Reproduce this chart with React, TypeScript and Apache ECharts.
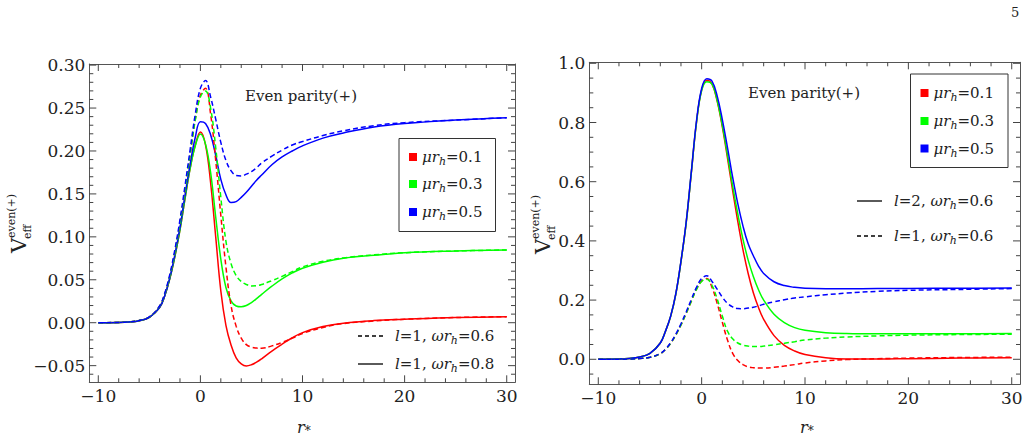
import { useEffect, useRef } from 'react';
import * as echarts from 'echarts';

const SERIF = "'DejaVu Serif', serif";
const FRAME = '#555555';
const TICK = '#444444';
const INK = '#222222';

// tortoise coordinate r_*
const rStar = [-10, -8, -7, -6, -5, -4, -3.5, -3, -2.5, -2, -1.5, -1, -0.5, 0, 0.5, 1, 1.5, 2, 2.5, 3, 3.5, 4, 4.5, 5, 5.5, 6, 7, 8, 9, 10, 12, 14, 17, 20, 25, 30];

// l=1, ωr_h=0.6
const l1w06Mu01 = [0, 0.0003, 0.0009, 0.0025, 0.0066, 0.019, 0.033, 0.054, 0.082, 0.116, 0.155, 0.196, 0.237, 0.265, 0.273, 0.243, 0.189, 0.125, 0.065, 0.020, -0.004, -0.018, -0.0255, -0.0285, -0.0295, -0.0298, -0.027, -0.023, -0.018, -0.0125, -0.0055, -0.001, 0.002, 0.004, 0.006, 0.007];
const l1w06Mu03 = [0, 0.0003, 0.0009, 0.0025, 0.0066, 0.019, 0.033, 0.054, 0.082, 0.116, 0.155, 0.196, 0.236, 0.263, 0.270, 0.250, 0.204, 0.146, 0.095, 0.069, 0.055, 0.048, 0.0445, 0.0428, 0.043, 0.0445, 0.049, 0.054, 0.0595, 0.065, 0.0715, 0.0755, 0.079, 0.0815, 0.0835, 0.0847];
const l1w06Mu05 = [0, 0.0003, 0.0009, 0.0025, 0.0067, 0.0195, 0.034, 0.056, 0.085, 0.120, 0.160, 0.202, 0.243, 0.273, 0.282, 0.263, 0.237, 0.210, 0.189, 0.177, 0.1715, 0.171, 0.173, 0.176, 0.1805, 0.186, 0.194, 0.201, 0.207, 0.211, 0.218, 0.2235, 0.2295, 0.233, 0.236, 0.2388];

// l=1, ωr_h=0.8
const l1w08Mu01 = [0, 0.0003, 0.0009, 0.0024, 0.0062, 0.0175, 0.031, 0.051, 0.077, 0.108, 0.145, 0.180, 0.207, 0.222, 0.207, 0.163, 0.100, 0.037, -0.003, -0.026, -0.041, -0.048, -0.0504, -0.049, -0.046, -0.042, -0.033, -0.025, -0.0175, -0.0115, -0.0045, -0.0005, 0.0025, 0.004, 0.006, 0.007];
const l1w08Mu03 = [0, 0.0003, 0.0009, 0.0024, 0.0062, 0.0175, 0.031, 0.051, 0.077, 0.108, 0.145, 0.180, 0.206, 0.2198, 0.208, 0.175, 0.123, 0.074, 0.041, 0.0255, 0.0195, 0.0186, 0.020, 0.0235, 0.028, 0.033, 0.0425, 0.051, 0.058, 0.0635, 0.0705, 0.075, 0.0785, 0.0815, 0.0835, 0.0847];
const l1w08Mu05 = [0, 0.0003, 0.0009, 0.0024, 0.0062, 0.0175, 0.031, 0.052, 0.079, 0.111, 0.149, 0.185, 0.216, 0.234, 0.232, 0.219, 0.195, 0.167, 0.149, 0.140, 0.141, 0.146, 0.152, 0.159, 0.166, 0.172, 0.184, 0.193, 0.200, 0.206, 0.215, 0.221, 0.228, 0.232, 0.236, 0.2388];

// l=2, ωr_h=0.6
const l2w06Mu01 = [0, 0.001, 0.003, 0.008, 0.020, 0.055, 0.095, 0.145, 0.22, 0.33, 0.46, 0.63, 0.80, 0.91, 0.943, 0.93, 0.872, 0.785, 0.68, 0.57, 0.465, 0.37, 0.29, 0.225, 0.175, 0.135, 0.08, 0.047, 0.028, 0.016, 0.005, 0.001, 0.001, 0.002, 0.004, 0.005];
const l2w06Mu03 = [0, 0.001, 0.003, 0.008, 0.020, 0.055, 0.095, 0.145, 0.22, 0.33, 0.46, 0.63, 0.80, 0.908, 0.938, 0.93, 0.875, 0.79, 0.69, 0.585, 0.49, 0.405, 0.335, 0.28, 0.235, 0.20, 0.152, 0.124, 0.107, 0.098, 0.090, 0.087, 0.086, 0.086, 0.0865, 0.087];
const l2w06Mu05 = [0, 0.001, 0.003, 0.008, 0.020, 0.055, 0.095, 0.146, 0.222, 0.332, 0.463, 0.633, 0.805, 0.915, 0.948, 0.94, 0.89, 0.81, 0.715, 0.615, 0.525, 0.45, 0.39, 0.35, 0.315, 0.29, 0.262, 0.249, 0.243, 0.240, 0.2385, 0.2385, 0.239, 0.2395, 0.240, 0.241];

const muLabels = ['0.1', '0.3', '0.5'];
const muColors = ['#ff0000', '#00ff00', '#0000ff'];

// tick positions
const xMajor = [-10, 0, 10, 20, 30];
const xMinor = [-8, -6, -4, -2, 2, 4, 6, 8, 12, 14, 16, 18, 22, 24, 26, 28];
const yMajorLeft = [-0.05, 0, 0.05, 0.1, 0.15, 0.2, 0.25, 0.3];
const yMinorLeft = [-0.06, -0.04, -0.03, -0.02, -0.01, 0.01, 0.02, 0.03, 0.04, 0.06, 0.07, 0.08, 0.09, 0.11, 0.12, 0.13, 0.14, 0.16, 0.17, 0.18, 0.19, 0.21, 0.22, 0.23, 0.24, 0.26, 0.27, 0.28, 0.29];
const yMajorRight = [0, 0.2, 0.4, 0.6, 0.8, 1.0];
const yMinorRight = [-0.05, 0.05, 0.1, 0.15, 0.25, 0.3, 0.35, 0.45, 0.5, 0.55, 0.65, 0.7, 0.75, 0.85, 0.9, 0.95];

// plot ranges of the two frames
const xRangeLeft = [-10.88, 30.81];
const yRangeLeft = [-0.0694, 0.3013];
const xRangeRight = [-10.87, 30.8];
const yRangeRight = [-0.0845, 1.0034];

const MAJOR_LEN = 7;
const MINOR_LEN = 4;

const minus = (s: string) => s.replace('-', '\u2212');

function axisFor(kind: 'x' | 'y', gridIndex: number, range: number[], major: number[], fmt: (v: number) => string) {
  const line = { show: true, onZero: false, lineStyle: { color: FRAME, width: 1 } };
  const base = { type: 'value', gridIndex, min: range[0], max: range[1], splitLine: { show: false }, silent: true, axisTick: { show: false } };
  return [
    {
      ...base, position: kind === 'x' ? 'bottom' : 'left', axisLine: line,
      axisLabel: { show: true, customValues: major, formatter: fmt, margin: kind === 'x' ? 5 : 4, fontFamily: SERIF, fontSize: 17, color: INK },
    },
    { ...base, position: kind === 'x' ? 'top' : 'right', axisLine: line, axisLabel: { show: false } },
  ];
}

// frame ticks on all four sides, placed through the cartesian's own coordinate conversion
function frameTicks(chart: echarts.ECharts, panel: number, xr: number[], yr: number[], xMaj: number[], xMin: number[], yMaj: number[], yMin: number[]) {
  const px = (x: number, y: number) => chart.convertToPixel({ xAxisIndex: panel * 2, yAxisIndex: panel * 2 } as any, [x, y]) as number[];
  const st = { stroke: TICK, lineWidth: 1 };
  const out: any[] = [];
  const addX = (v: number, len: number) => {
    const b = px(v, yr[0]);
    const t = px(v, yr[1]);
    out.push({ type: 'line', silent: true, z: 100, shape: { x1: b[0], y1: b[1], x2: b[0], y2: b[1] - len }, style: st });
    out.push({ type: 'line', silent: true, z: 100, shape: { x1: t[0], y1: t[1], x2: t[0], y2: t[1] + len }, style: st });
  };
  const addY = (v: number, len: number) => {
    const l = px(xr[0], v);
    const r = px(xr[1], v);
    out.push({ type: 'line', silent: true, z: 100, shape: { x1: l[0], y1: l[1], x2: l[0] + len, y2: l[1] }, style: st });
    out.push({ type: 'line', silent: true, z: 100, shape: { x1: r[0], y1: r[1], x2: r[0] - len, y2: r[1] }, style: st });
  };
  xMaj.forEach((v) => addX(v, MAJOR_LEN));
  xMin.forEach((v) => addX(v, MINOR_LEN));
  yMaj.forEach((v) => addY(v, MAJOR_LEN));
  yMin.forEach((v) => addY(v, MINOR_LEN));
  return out;
}

const rich = (size: number) => ({
  n: { fontFamily: SERIF, fontSize: size, fill: INK, lineHeight: 20 },
  i: { fontFamily: SERIF, fontStyle: 'italic', fontSize: size, fill: INK, lineHeight: 20 },
  s: { fontFamily: SERIF, fontStyle: 'italic', fontSize: Math.round(size * 0.72), fill: INK, lineHeight: 7, verticalAlign: 'bottom' },
});

function richText(x: number, y: number, text: string, size = 15) {
  return { type: 'text', x, y, silent: true, style: { text, rich: rich(size), verticalAlign: 'middle', align: 'left' } };
}

function colourLegend(boxX: number, boxY: number, w: number, h: number, rows: number[]) {
  const children: any[] = [
    { type: 'rect', shape: { x: boxX, y: boxY, width: w, height: h }, style: { fill: '#fff', stroke: '#333', lineWidth: 1 }, silent: true },
  ];
  muLabels.forEach((mu, k) => {
    children.push({ type: 'rect', shape: { x: boxX + 10, y: rows[k] - 4, width: 8, height: 8 }, style: { fill: muColors[k] }, silent: true });
    children.push(richText(boxX + 23, rows[k], `{i|μr}{s|h}{n|=${mu}}`));
  });
  return children;
}

function lineLegend(x: number, y: number, dashed: boolean, text: string) {
  return [
    { type: 'line', shape: { x1: x, y1: y, x2: x + 25, y2: y }, style: { stroke: '#000', lineWidth: 1.3, lineDash: dashed ? [4, 3] : null }, silent: true },
    richText(x + 37, y, text),
  ];
}

function yTitle(gx: number, gy: number) {
  return {
    type: 'group', x: gx, y: gy, rotation: Math.PI / 2, silent: true,
    children: [
      { type: 'text', x: 0, y: 0, style: { text: 'V', fontFamily: SERIF, fontSize: 21, fill: INK, verticalAlign: 'middle', align: 'left' } },
      { type: 'text', x: 15, y: -8, style: { text: 'even(+)', fontFamily: SERIF, fontSize: 11, fill: INK, verticalAlign: 'middle', align: 'left' } },
      { type: 'text', x: 14, y: 8, style: { text: 'eff', fontFamily: SERIF, fontSize: 11, fill: INK, verticalAlign: 'middle', align: 'left' } },
    ],
  };
}

export default function App() {
  const ref = useRef<HTMLDivElement>(null);

  useEffect(() => {
    if (!ref.current) return;
    const chart = echarts.init(ref.current, undefined, { renderer: 'svg' });

    const fmt2 = (v: number) => minus(v.toFixed(2));
    const fmt1 = (v: number) => minus(v.toFixed(1));
    const fmtX = (v: number) => minus(String(v));

    const xAxis = [
      ...axisFor('x', 0, xRangeLeft, xMajor, fmtX),
      ...axisFor('x', 1, xRangeRight, xMajor, fmtX),
    ];
    const yAxis = [
      ...axisFor('y', 0, yRangeLeft, yMajorLeft, fmt2),
      ...axisFor('y', 1, yRangeRight, yMajorRight, fmt1),
    ];

    const curve = (panel: number, values: number[], colour: number, dashed: boolean) => ({
      type: 'line',
      xAxisIndex: panel * 2,
      yAxisIndex: panel * 2,
      data: rStar.map((r, k) => [r, values[k]]),
      showSymbol: false,
      smooth: 0.4,
      silent: true,
      lineStyle: { color: muColors[colour], width: 1.5, type: dashed ? [5, 3] : 'solid' },
    });

    const series = [
      curve(0, l1w08Mu01, 0, false),
      curve(0, l1w08Mu03, 1, false),
      curve(0, l1w08Mu05, 2, false),
      curve(0, l1w06Mu01, 0, true),
      curve(0, l1w06Mu03, 1, true),
      curve(0, l1w06Mu05, 2, true),
      curve(1, l2w06Mu01, 0, false),
      curve(1, l2w06Mu03, 1, false),
      curve(1, l2w06Mu05, 2, false),
      curve(1, l1w06Mu01, 0, true),
      curve(1, l1w06Mu03, 1, true),
      curve(1, l1w06Mu05, 2, true),
    ];

    const graphic: any[] = [
      { type: 'text', x: 1011, y: 6, silent: true, style: { text: '5', fontFamily: SERIF, fontSize: 13, fill: INK } },
      { type: 'text', x: 245, y: 96, silent: true, style: { text: 'Even parity(+)', fontFamily: SERIF, fontSize: 15, fill: INK, verticalAlign: 'middle' } },
      { type: 'text', x: 748, y: 93, silent: true, style: { text: 'Even parity(+)', fontFamily: SERIF, fontSize: 15, fill: INK, verticalAlign: 'middle' } },
      ...colourLegend(399, 138.5, 96.5, 93, [157, 184, 212]),
      ...colourLegend(910.5, 74, 97.5, 93.5, [93, 121, 148.5]),
      ...lineLegend(358, 336, true, '{i|l}{n|=1, }{i|ωr}{s|h}{n|=0.6}'),
      ...lineLegend(358, 364, false, '{i|l}{n|=1, }{i|ωr}{s|h}{n|=0.8}'),
      ...lineLegend(857, 201, false, '{i|l}{n|=2, }{i|ωr}{s|h}{n|=0.6}'),
      ...lineLegend(857, 236, true, '{i|l}{n|=1, }{i|ωr}{s|h}{n|=0.6}'),
      richText(297, 427, '{i|r}{s|*}', 16),
      richText(800, 427, '{i|r}{s|*}', 16),
      yTitle(19, 253),
      yTitle(543, 254),
    ];

    chart.setOption({
      animation: false,
      textStyle: { fontFamily: SERIF },
      grid: [
        { left: 89.3, top: 64, width: 425.7, height: 318.3, containLabel: false },
        { left: 589.3, top: 62.3, width: 430.7, height: 322, containLabel: false },
      ],
      xAxis,
      yAxis,
      series,
      graphic,
    });

    let ticks: any[] = [];
    try {
      ticks = [
        ...frameTicks(chart, 0, xRangeLeft, yRangeLeft, xMajor, xMinor, yMajorLeft, yMinorLeft),
        ...frameTicks(chart, 1, xRangeRight, yRangeRight, xMajor, xMinor, yMajorRight, yMinorRight),
      ];
    } catch (e) {
      console.error('tick placement failed', e);
    }
    chart.setOption({ graphic: [...graphic, ...ticks] });

    return () => chart.dispose();
  }, []);

  return <div ref={ref} style={{ position: 'fixed', left: 0, top: 0, width: 1028, height: 442, background: '#fff' }} />;
}
